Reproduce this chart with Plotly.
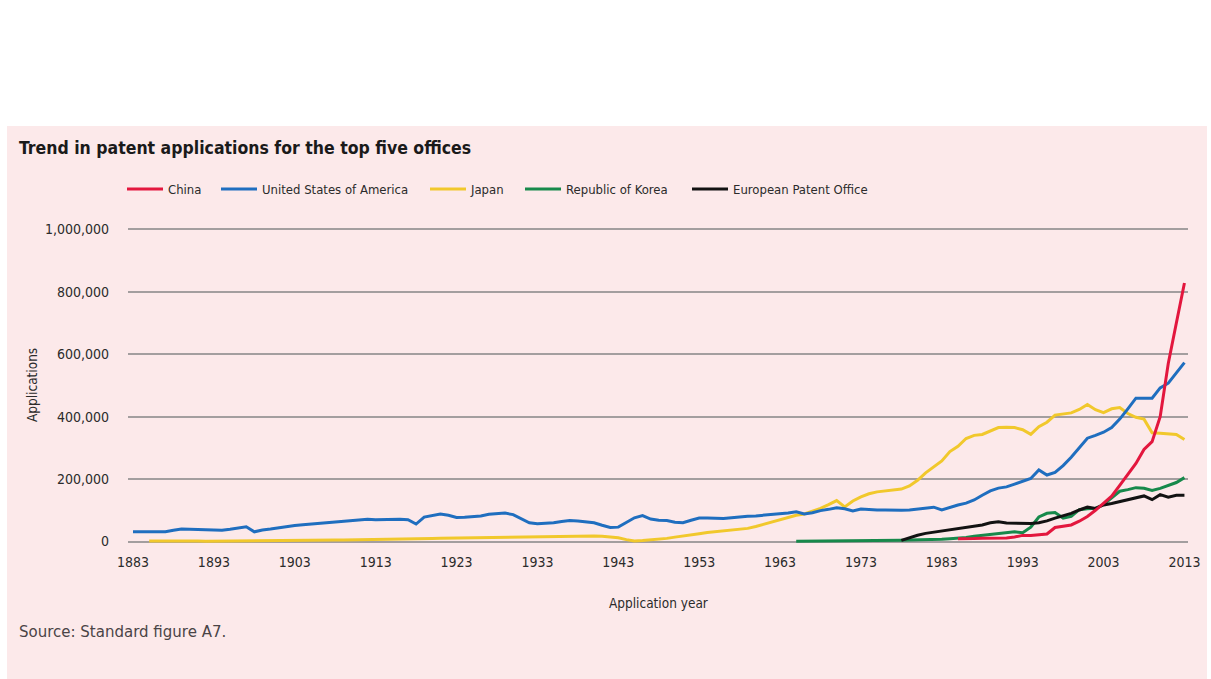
import plotly.graph_objects as go

# ---------------- data ----------------
years_usa = list(range(1883, 2014))
usa = [
    31000, 31000, 31000, 31000, 31000, 36000, 40000, 39000, 38000, 37000,   # 1883-1892
    36000, 36000, 39000, 43000, 47000, 31000, 37000, 40000, 44000, 49000,   # 1893-1902
    51000, 54000, 56000, 58000, 60000, 62000, 65000, 66000, 69000, 71000,   # 1903-1912
    70000, 71000, 70000, 71000, 70000, 56000, 78000, 83000, 88000, 84000,   # 1913-1922
    77000, 78000, 80000, 82000, 87000, 89000, 91000, 86000, 72000, 60000,   # 1923-1932
    57000, 58000, 60000, 64000, 67000, 66000, 63000, 60000, 52000, 45000,   # 1933-1942
    46000, 60000, 76000, 83000, 72000, 68000, 67000, 62000, 60000, 68000,   # 1943-1952
    75000, 75000, 74000, 74000, 76000, 79000, 81000, 82000, 84000, 87000,   # 1953-1962
    88000, 91000, 95000, 88000, 92000, 99000, 103000, 108000, 105000, 98000,  # 1963-1972
    104000, 102000, 101000, 101000, 100000, 100000, 101000, 104000, 106000, 110000,  # 1973-1982
    101000, 110000, 117000, 123000, 133000, 148000, 162000, 171000, 175000, 184000,  # 1983-1992
    192000, 202000, 229000, 213000, 221000, 243000, 270000, 300000, 331000, 340000,  # 1993-2002
    350000, 365000, 392000, 425000, 459000, 459000, 459000, 492000, 507000, 540000,  # 2003-2012
    573000,                                                                  # 2013
]

years_japan = list(range(1885, 2014))
japan = [
    1400, 1000, 1200, 1000, 1200, 1300, 1300, 1200, 1300, 1400,            # 1885-1894
    1400, 1600, 2000, 2100, 2500, 2700, 2900, 3000, 3300, 3400,            # 1895-1904
    3800, 4200, 4800, 5000, 5200, 5500, 5800, 6000, 6300, 6000,            # 1905-1914
    6500, 7000, 8000, 9000, 9500, 10000, 10500, 11000, 10500, 11000,       # 1915-1924
    11500, 12000, 12500, 13000, 13500, 14000, 14000, 14500, 15000, 15500,  # 1925-1934
    16000, 16500, 17000, 17500, 18000, 18000, 17000, 15000, 12000, 6000,   # 1935-1944
    1500, 3000, 5000, 7000, 10000, 14000, 17000, 21000, 25000, 29000,      # 1945-1954
    32000, 35000, 37000, 39000, 42000, 48000, 55000, 62000, 69000, 78000,  # 1955-1964
    84000, 88000, 96000, 106000, 118000, 131000, 111000, 130000, 143000, 153000,  # 1965-1974
    159000, 162000, 164000, 168000, 178000, 196000, 220000, 240000, 258000, 288000,  # 1975-1984
    305000, 330000, 340000, 343000, 355000, 365000, 366000, 365000, 358000, 343000,  # 1985-1994
    368000, 382000, 405000, 408000, 412000, 423000, 439000, 422000, 413000, 425000,  # 1995-2004
    429000, 410000, 398000, 392000, 348000, 347000, 346000, 343000, 327000,          # 2005-2013
]

years_korea = list(range(1965, 2014))
korea = [
    1000, 1100, 1200, 1400, 1600, 1800, 2000, 2200, 2500, 2700,            # 1965-1974
    2900, 3200, 3600, 4200, 4800, 5100, 5300, 5900, 6900, 8700,            # 1975-1984
    10600, 12800, 17000, 20000, 21000, 25800, 28000, 31000, 28000, 45700,  # 1985-1994
    78500, 90300, 92700, 75200, 80600, 102000, 104600, 106100, 118600, 140100,  # 1995-2004
    160900, 166200, 172500, 170600, 163500, 170100, 178900, 188900, 204600,     # 2005-2013
]

years_epo = list(range(1978, 2014))
epo = [
    3600, 12000, 20000, 26000, 30000, 34000, 38000, 41000, 44000, 48000,   # 1978-1987
    53000, 60000, 63000, 59000, 58000, 57000, 58000, 60000, 66000, 75000,  # 1988-1997
    83000, 90000, 101000, 110000, 106000, 117000, 122000, 128000, 135000, 141000,  # 1998-2007
    146000, 134000, 150000, 142000, 148000, 148000,                        # 2008-2013
]

years_china = list(range(1985, 2014))
china = [
    8600, 8000, 9400, 10500, 10000, 10100, 11400, 14400, 19600, 19100,     # 1985-1994
    21600, 24000, 45000, 49000, 53000, 65000, 80000, 100000, 122000, 145000,  # 1995-2004
    180000, 215000, 250000, 295000, 320000, 400000, 570000, 700000, 828000,   # 2005-2013
]

x_ticks = [1883, 1893, 1903, 1913, 1923, 1933, 1943, 1953, 1963, 1973, 1983, 1993, 2003, 2013]
y_ticks = [0, 200000, 400000, 600000, 800000, 1000000]
y_ticktext = ["0", "200,000", "400,000", "600,000", "800,000", "1,000,000"]

# ---------------- styling ----------------
W, H = 1211, 679
L, R, T, B = 128, 1188, 219, 546
PINK = "#FCE9EA"
GRID = "#A39E9F"
TXT = "#2B2B2B"
NARROW = "DejaVu Sans Condensed, Liberation Sans Narrow, sans-serif"
WIDE = "DejaVu Sans, sans-serif"


def xp(px):
    return (px - L) / (R - L)


def yp(py):
    return (B - py) / (B - T)


# name, x, y, color, legend id, legend text start (px)
series = [
    ("Japan", years_japan, japan, "#F1C82C", "legend3", 471),
    ("United States of America", years_usa, usa, "#1F6EBF", "legend2", 262),
    ("Republic of Korea", years_korea, korea, "#17894B", "legend4", 566),
    ("European Patent Office", years_epo, epo, "#121212", "legend5", 733),
    ("China", years_china, china, "#E3173E", "legend", 168),
]

fig = go.Figure()
legends = {}
for name, xs, ys, col, lg, tx in series:
    fig.add_trace(go.Scatter(
        x=xs, y=ys, mode="lines", name=name,
        line=dict(color=col, width=3),
        legend=lg,
        hovertemplate="%{x}: %{y:,}<extra>" + name + "</extra>",
    ))
    legends[lg] = dict(
        orientation="h", x=xp(tx - 46), xanchor="left", y=yp(189), yanchor="middle",
        font=dict(family=NARROW, size=13, color=TXT),
        bgcolor="rgba(0,0,0,0)", itemwidth=36, borderwidth=0,
    )

fig.update_layout(
    width=W, height=H,
    margin=dict(l=L, r=W - R, t=T, b=H - B, pad=0),
    paper_bgcolor=PINK,
    plot_bgcolor=PINK,
    font=dict(family=NARROW, size=13, color=TXT),
    showlegend=True,
    xaxis=dict(
        range=[1882.38, 2013.44], tickmode="array", tickvals=x_ticks,
        showgrid=False, zeroline=False, showline=False, ticks="",
        tickfont=dict(family=NARROW, size=14, color=TXT),
        ticklabelstandoff=6,
    ),
    yaxis=dict(
        range=[-14400, 1033000], tickmode="array", tickvals=y_ticks, ticktext=y_ticktext,
        showgrid=True, gridcolor=GRID, gridwidth=2,
        zeroline=False, showline=False, ticks="",
        tickfont=dict(family=NARROW, size=14, color=TXT),
        ticklabelstandoff=18,
    ),
    **legends,
)

# white band above the pink panel and thin side strips
fig.add_shape(type="rect", xref="paper", yref="paper", layer="below",
              x0=xp(-5), x1=xp(W + 5), y0=yp(126), y1=yp(-5),
              fillcolor="white", line=dict(width=0))
fig.add_shape(type="rect", xref="paper", yref="paper", layer="below",
              x0=xp(-5), x1=xp(7), y0=yp(H + 5), y1=yp(-5),
              fillcolor="white", line=dict(width=0))
fig.add_shape(type="rect", xref="paper", yref="paper", layer="below",
              x0=xp(1207), x1=xp(W + 5), y0=yp(H + 5), y1=yp(-5),
              fillcolor="white", line=dict(width=0))

annotations = [
    dict(text="<b>Trend in patent applications for the top five offices</b>",
         x=xp(17), y=yp(148), xanchor="left", yanchor="middle",
         font=dict(family=NARROW, size=17.5, color="#1A1A1A")),
    dict(text="Applications", x=xp(32), y=yp(385), xanchor="center", yanchor="middle",
         textangle=-90, font=dict(family=NARROW, size=13.5, color=TXT)),
    dict(text="Application year", x=xp(658), y=yp(603), xanchor="center", yanchor="middle",
         font=dict(family=NARROW, size=13.5, color=TXT)),
    dict(text="Source: Standard figure A7.", x=xp(17), y=yp(632), xanchor="left", yanchor="middle",
         font=dict(family=WIDE, size=15, color="#4A4446")),
]
for a in annotations:
    fig.add_annotation(xref="paper", yref="paper", showarrow=False, **a)

fig.write_html("out.html",
               config={"displayModeBar": False},
               post_script="document.body.style.margin='0';document.body.style.padding='0';")
